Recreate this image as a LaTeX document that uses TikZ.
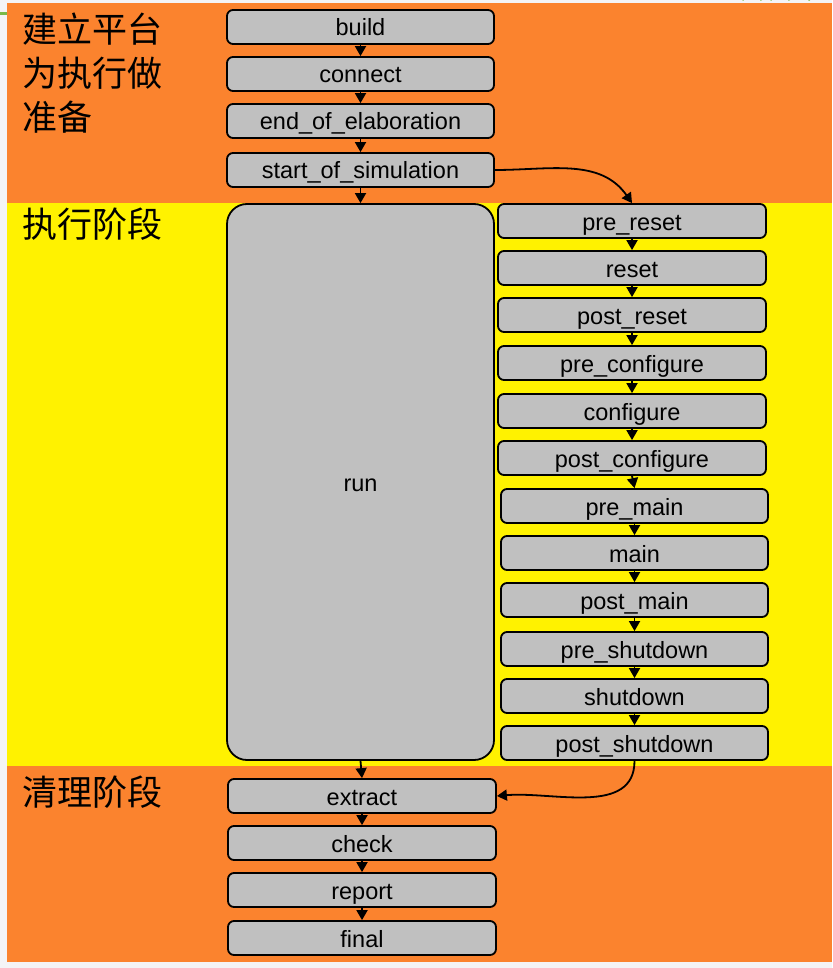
\documentclass[tikz,border=0pt]{standalone}
\usepackage{fontspec}
\setmainfont{Liberation Sans}
\newfontfamily\cjk{Noto Sans CJK SC}
\usetikzlibrary{arrows.meta}
\definecolor{bandorange}{RGB}{251,131,46}
\definecolor{bandyellow}{RGB}{255,242,0}
\definecolor{boxgray}{RGB}{192,192,192}
\definecolor{pagegray}{RGB}{244,244,246}
\definecolor{decogreen}{RGB}{122,186,72}
\tikzset{
  phase/.style={draw, fill=boxgray, line width=1.8pt, rounded corners=6pt,
    minimum width=267pt, minimum height=34pt, inner sep=0pt,
    text height=18pt, text depth=0pt,
    font=\fontsize{23.5}{26}\selectfont},
  flow/.style={-{Triangle[length=10pt,width=11pt]}, line width=1.8pt},
  stagelabel/.style={anchor=north west, inner sep=0pt, align=left,
    font=\cjk\fontsize{35}{44}\selectfont},
}
\begin{document}
\begin{tikzpicture}[x=1pt, y=-1pt]
    \useasboundingbox (0,0) rectangle (832,968);
    % background and bands
    \fill [pagegray] (0,0) rectangle (832,968);
    \fill [decogreen] (0,12) rectangle (7,15);
    \draw [decogreen, line width=3pt] (742,0) arc(180:360:10 and 3);
    \draw [decogreen, line width=3pt] (770,0) arc(180:360:10 and 3);
    \draw [decogreen, line width=3pt] (808,0) arc(180:360:14 and 3);
    \fill [bandorange] (7,3) rectangle (832,203);
    \fill [bandyellow] (7,203) rectangle (832,766);
    \fill [bandorange] (7,766) rectangle (832,962);
    % stage labels
    \node [stagelabel] (lblprep) at (22,13) {建立平台\\为执行做\\准备};
    \node [stagelabel] (lblexec) at (22,208) {执行阶段};
    \node [stagelabel] (lblclean) at (22,776) {清理阶段};
    % build-time phases
    \node [phase] (build) at (360.5,27) {build};
    \node [phase] (connect) at (360.5,74) {connect};
    \node [phase] (eoe) at (360.5,121) {end\_of\_elaboration};
    \node [phase] (sos) at (360.5,170) {start\_of\_simulation};
    % run-time phases
    \node [phase, minimum height=556pt, rounded corners=20pt] (run) at (360.5,482) {run};
    \node [phase, minimum width=268pt] (prereset) at (632,221) {pre\_reset};
    \node [phase, minimum width=268pt] (reset) at (632,268) {reset};
    \node [phase, minimum width=268pt] (postreset) at (632,315) {post\_reset};
    \node [phase, minimum width=268pt] (preconfig) at (632,363) {pre\_configure};
    \node [phase, minimum width=268pt] (config) at (632,411) {configure};
    \node [phase, minimum width=268pt] (postconfig) at (632,458) {post\_configure};
    \node [phase] (premain) at (634.5,506) {pre\_main};
    \node [phase] (main) at (634.5,553) {main};
    \node [phase] (postmain) at (634.5,600) {post\_main};
    \node [phase] (preshut) at (634.5,649) {pre\_shutdown};
    \node [phase] (shut) at (634.5,696) {shutdown};
    \node [phase] (postshut) at (634.5,743) {post\_shutdown};
    % cleanup phases
    \node [phase, minimum width=268pt] (extract) at (362,796) {extract};
    \node [phase, minimum width=268pt] (check) at (362,843) {check};
    \node [phase, minimum width=268pt] (report) at (362,890) {report};
    \node [phase, minimum width=268pt] (final) at (362,938) {final};
    % arrows
    \draw [flow] (build) -- (connect);
    \draw [flow] (connect) -- (eoe);
    \draw [flow] (eoe) -- (sos);
    \draw [flow] (sos) -- (run);
    \draw [flow] (sos.east) to[out=0, in=125] (prereset.north);
    \draw [flow] (prereset) -- (reset);
    \draw [flow] (reset) -- (postreset);
    \draw [flow] (postreset) -- (preconfig);
    \draw [flow] (preconfig) -- (config);
    \draw [flow] (config) -- (postconfig);
    \draw [flow] (postconfig.south) -- (premain.north);
    \draw [flow] (premain) -- (main);
    \draw [flow] (main) -- (postmain);
    \draw [flow] (postmain) -- (preshut);
    \draw [flow] (preshut) -- (shut);
    \draw [flow] (shut) -- (postshut);
    \draw [flow] (postshut.south) to[out=-90, in=5] (extract.east);
    \draw [flow] (run.south) -- (extract.north);
    \draw [flow] (extract) -- (check);
    \draw [flow] (check) -- (report);
    \draw [flow] (report) -- (final);
  \end{tikzpicture}
\end{document}
